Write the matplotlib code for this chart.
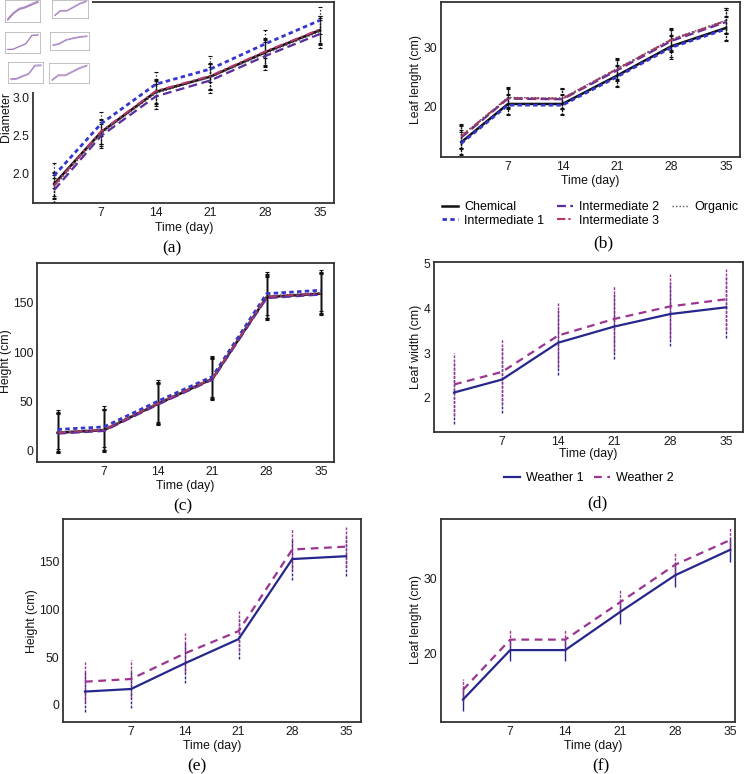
import numpy as np
import matplotlib.pyplot as plt
from matplotlib.lines import Line2D

# figure size in pixels
W, H = 746, 774

days = [1, 7, 14, 21, 28, 35]
day_ticks = [7, 14, 21, 28, 35]

# (a) Diameter
a_chem = [1.86, 2.54, 3.07, 3.27, 3.59, 3.88]
a_int1 = [1.97, 2.65, 3.17, 3.37, 3.70, 4.01]
a_int2 = [1.78, 2.49, 3.01, 3.22, 3.54, 3.83]
a_int3 = [1.84, 2.55, 3.08, 3.28, 3.60, 3.89]
a_org = [1.82, 2.52, 3.05, 3.26, 3.57, 3.86]
a_sd = [0.16, 0.16, 0.16, 0.17, 0.18, 0.18]

# (b) Leaf length
b_chem = [14.0, 20.5, 20.5, 25.3, 30.3, 33.4]
b_int1 = [13.8, 20.3, 20.3, 25.1, 30.1, 33.2]
b_int2 = [14.8, 21.4, 21.3, 26.2, 31.2, 34.4]
b_int3 = [15.0, 21.5, 21.4, 26.4, 31.4, 34.6]
b_org = [15.1, 21.6, 21.5, 26.5, 31.5, 34.7]
b_sd = [2.0, 1.7, 1.7, 1.8, 1.9, 2.1]

# (c) Height
c_chem = [17.6, 20.3, 47.3, 72.6, 156.0, 159.5]
c_int1 = [21.0, 23.6, 50.0, 75.0, 159.5, 163.0]
c_int2 = [16.8, 19.5, 46.5, 71.8, 155.0, 158.6]
c_int3 = [17.9, 20.6, 47.8, 73.0, 156.5, 160.0]
c_org = [18.6, 21.2, 48.4, 73.6, 157.2, 160.6]
c_sd = [20.0, 21.0, 21.0, 21.0, 22.0, 21.0]

# (d) Leaf width
d_w1 = [2.12, 2.41, 3.23, 3.59, 3.87, 4.02]
d_w2 = [2.30, 2.58, 3.39, 3.76, 4.04, 4.20]
d_sd = [0.70, 0.74, 0.72, 0.73, 0.72, 0.68]

# (e) Height
e_w1 = [14.0, 16.7, 43.6, 69.0, 153.0, 156.0]
e_w2 = [24.4, 27.2, 54.0, 77.4, 163.0, 166.0]
e_sd = [21.0, 20.0, 21.0, 21.0, 22.0, 21.0]

# (f) Leaf length
f_w1 = [13.8, 20.4, 20.4, 25.5, 30.4, 33.8]
f_w2 = [15.1, 21.8, 21.8, 26.8, 31.8, 35.1]
f_sd = [1.5, 1.4, 1.4, 1.6, 1.6, 1.6]

treat_names = ["Chemical", "Intermediate 1", "Intermediate 2", "Intermediate 3", "Organic"]
treat_colors = ["#111111", "#3535d0", "#5a2ca0", "#b8336a", "#555555"]
treat_styles = ["-", (0, (1.6, 1.2)), (0, (4, 2)), (0, (4, 1.5, 1, 1.5)), (0, (1, 1.5))]
treat_widths = [1.8, 2.0, 1.6, 1.5, 1.0]

weather_names = ["Weather 1", "Weather 2"]
weather_colors = ["#26268c", "#9b3590"]
weather_styles = ["-", (0, (3.5, 2.5))]

plt.rcParams['font.family'] = ['Liberation Sans', 'DejaVu Sans']

fig = plt.figure(figsize=(W / 100, H / 100), dpi=100)


def rect(l, t, r, b):
    return [l / W, 1 - b / H, (r - l) / W, (b - t) / H]


def ftext(x, y, s, **kw):
    return fig.text(x / W, 1 - y / H, s, **kw)


def style_ax(ax, xlim, ylim, yticks, yfmt="{:g}"):
    ax.set_xlim(*xlim)
    ax.set_ylim(*ylim)
    ax.set_xticks(day_ticks)
    ax.set_xticklabels([str(d) for d in day_ticks])
    ax.set_yticks(yticks)
    ax.set_yticklabels([yfmt.format(v) for v in yticks])
    ax.tick_params(axis='both', length=0, labelsize=8.7, labelcolor="#1a1a1a")
    ax.tick_params(axis='x', pad=3)
    ax.tick_params(axis='y', pad=2.5)
    for sp in ax.spines.values():
        sp.set_color("#333333")
        sp.set_linewidth(1.3)


def draw_treat(ax, series, sd, err_style):
    for vals, col, ls, lw in zip(series, treat_colors, treat_styles, treat_widths):
        eb = ax.errorbar(days, vals, yerr=sd, fmt='none', ecolor="#111111",
                         elinewidth=0.9, capsize=1.5, capthick=0.8, zorder=2)
        eb[2][0].set_linestyle(err_style)
    for vals, col, ls, lw in zip(series, treat_colors, treat_styles, treat_widths):
        ax.plot(days, vals, color=col, linestyle=ls, linewidth=lw, zorder=3)


def draw_weather(ax, series, sd, err_styles):
    for vals, col, es in zip(series, weather_colors, err_styles):
        eb = ax.errorbar(days, vals, yerr=sd, fmt='none', ecolor=col,
                         elinewidth=1.0, capsize=0, zorder=2)
        eb[2][0].set_linestyle(es)
    for vals, col, ls in zip(series, weather_colors, weather_styles):
        ax.plot(days, vals, color=col, linestyle=ls, linewidth=1.6, zorder=3)


label_kw = dict(fontsize=8.8, color="#111111")
cap_kw = dict(fontsize=12.5, family=['Liberation Serif', 'DejaVu Serif'], ha='center', va='center')

# ---- (a)
ax_a = fig.add_axes(rect(33, 2, 334, 203))
draw_treat(ax_a, [a_chem, a_int1, a_int2, a_int3, a_org], a_sd, ':')
style_ax(ax_a, (-1.7, 36.8), (1.61, 4.25), [2.0, 2.5, 3.0, 3.5, 4.0], "{:.1f}")
ftext(184, 228, "Time (day)", ha='center', va='center', **label_kw)
ftext(6, 117, "Diameter", rotation=90, ha='center', va='center', **label_kw)
ftext(172, 248, "(a)", **cap_kw)

# ---- (b)
ax_b = fig.add_axes(rect(441, 2, 740, 157))
draw_treat(ax_b, [b_chem, b_int1, b_int2, b_int3, b_org], b_sd, ':')
style_ax(ax_b, (-1.6, 36.8), (11.5, 37.8), [20, 30])
ftext(590, 181, "Time (day)", ha='center', va='center', **label_kw)
ftext(416, 79, "Leaf lenght (cm)", rotation=90, ha='center', va='center', **label_kw)
ftext(603, 243, "(b)", **cap_kw)

handles = [Line2D([], [], color=c, linestyle=s, linewidth=w)
           for c, s, w in zip(treat_colors, treat_styles, treat_widths)]
fig.legend(handles, treat_names, loc='center', ncol=3, frameon=False,
           bbox_to_anchor=(590 / W, 1 - 214 / H), fontsize=9, handlelength=1.3,
           handletextpad=0.5, columnspacing=1.0, labelspacing=0.1)

# ---- (c)
ax_c = fig.add_axes(rect(37, 263, 334, 462))
draw_treat(ax_c, [c_chem, c_int1, c_int2, c_int3, c_org], c_sd, '-')
style_ax(ax_c, (-1.65, 36.7), (-12.2, 190.8), [0, 50, 100, 150])
ftext(185, 486, "Time (day)", ha='center', va='center', **label_kw)
ftext(6, 361, "Height (cm)", rotation=90, ha='center', va='center', **label_kw)
ftext(183, 506, "(c)", **cap_kw)

# ---- (d)
ax_d = fig.add_axes(rect(434, 262, 743, 432))
draw_weather(ax_d, [d_w1, d_w2], d_sd, [(0, (2, 1)), (0, (2, 1))])
style_ax(ax_d, (-1.5, 37.1), (1.24, 5.03), [2, 3, 4, 5])
ftext(588, 454, "Time (day)", ha='center', va='center', **label_kw)
ftext(416, 347, "Leaf width (cm)", rotation=90, ha='center', va='center', **label_kw)
ftext(597, 503, "(d)", **cap_kw)

w_handles = [Line2D([], [], color=c, linestyle=s, linewidth=1.6)
             for c, s in zip(weather_colors, weather_styles)]
fig.legend(w_handles, weather_names, loc='center', ncol=2, frameon=False,
           bbox_to_anchor=(589 / W, 1 - 478 / H), fontsize=9, handlelength=1.3,
           handletextpad=0.5, columnspacing=0.8)

# ---- (e)
ax_e = fig.add_axes(rect(63, 519, 361, 722))
draw_weather(ax_e, [e_w1, e_w2], e_sd, [(0, (2, 1)), (0, (2, 1))])
style_ax(ax_e, (-1.86, 36.95), (-17.9, 195), [0, 50, 100, 150])
ftext(212, 746, "Time (day)", ha='center', va='center', **label_kw)
ftext(32, 621, "Height (cm)", rotation=90, ha='center', va='center', **label_kw)
ftext(197, 766, "(e)", **cap_kw)

# ---- (f)
ax_f = fig.add_axes(rect(441, 519, 735, 722))
draw_weather(ax_f, [f_w1, f_w2], f_sd, ['-', (0, (2, 1))])
style_ax(ax_f, (-1.8, 35.6), (10.8, 37.9), [20, 30])
ftext(593, 746, "Time (day)", ha='center', va='center', **label_kw)
ftext(416, 620, "Leaf lenght (cm)", rotation=90, ha='center', va='center', **label_kw)
ftext(601, 766, "(f)", **cap_kw)

# ---- thumbnail overlay in the top-left corner
cover = fig.add_axes(rect(0, 0, 92, 92))
cover.set_facecolor("white")
cover.set_xticks([])
cover.set_yticks([])
for sp in cover.spines.values():
    sp.set_visible(False)
cover.set_zorder(5)

thumbs = [
    ((5, 0, 40, 22), [a_chem, a_int1, a_int2], (1.6, 4.1)),
    ((52, 0, 88, 18), [b_chem, b_int3], (11, 36)),
    ((5, 32, 40, 53), [c_chem, c_int1], (-15, 190)),
    ((50, 32, 89, 50), [d_w1, d_w2], (1.2, 5.0)),
    ((8, 62, 43, 83), [e_w1, e_w2], (-20, 195)),
    ((49, 63, 89, 83), [f_w1, f_w2], (10.5, 38)),
]
for box, series, ylim in thumbs:
    tax = fig.add_axes(rect(*box))
    tax.set_zorder(6)
    for vals in series:
        tax.plot(days, vals, color="#9a70b8", linewidth=0.7, alpha=0.8)
    tax.set_xlim(-2, 37)
    tax.set_ylim(*ylim)
    tax.set_xticks([])
    tax.set_yticks([])
    for sp in tax.spines.values():
        sp.set_color("#aaaaaa")
        sp.set_linewidth(0.5)

fig.savefig("out.png", dpi=100)
